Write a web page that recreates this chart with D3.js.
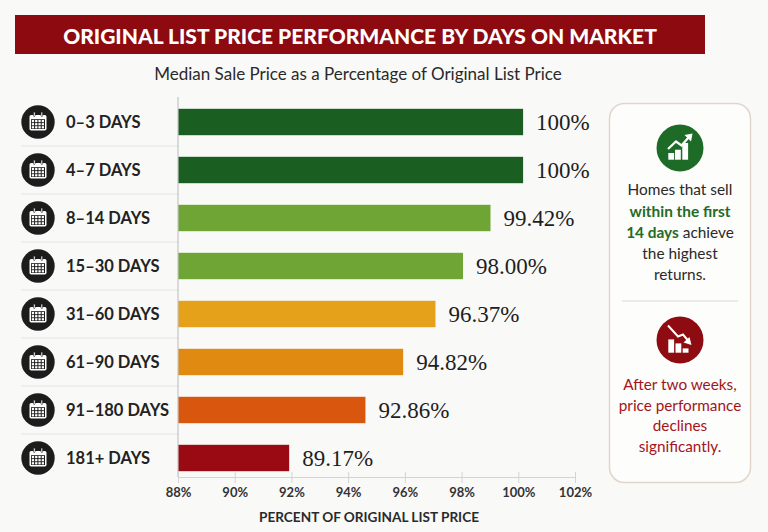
<!DOCTYPE html>
<html>
<head>
<meta charset="utf-8">
<script src="https://cdn.jsdelivr.net/npm/d3@7"></script>
<style>
  body { margin: 0; background: #f9f9f8; }
  svg { display: block; }
  text { font-family: Lato, "Open Sans", sans-serif; }
</style>
</head>
<body>
<svg id="chart" width="768" height="532"></svg>
<script>
// --- data ---
const categories = ['0–3 DAYS', '4–7 DAYS', '8–14 DAYS', '15–30 DAYS',
                    '31–60 DAYS', '61–90 DAYS', '91–180 DAYS', '181+ DAYS'];
// printed value labels
const valueLabels = ['100%', '100%', '99.42%', '98.00%', '96.37%', '94.82%', '92.86%', '89.17%'];
// where each bar actually ends, read against the bottom axis
const barEnds = [100.17, 100.17, 99.02, 98.05, 97.08, 95.94, 94.61, 91.92];
const tickValues = [88, 90, 92, 94, 96, 98, 100, 102];
const title = 'ORIGINAL LIST PRICE PERFORMANCE BY DAYS ON MARKET';
const subtitle = 'Median Sale Price as a Percentage of Original List Price';
const axisTitle = 'PERCENT OF ORIGINAL LIST PRICE';

const barColors = ['#1b5e22', '#1b5e22', '#6ea534', '#6ea534',
                   '#e6a11a', '#e08a12', '#d9560f', '#9a0a13'];

const svg = d3.select('#chart');

let x = d3.scaleLinear().domain([88, 102]).range([178, 575]);
let y = d3.scaleBand().domain(categories).range([98, 482])
          .paddingInner(0.45).paddingOuter(0.225);
let color = d3.scaleOrdinal().domain(categories).range(barColors);

// shrink a text node until it fits a width
function fitText(sel, maxW) {
    let node = sel.node();
    let size = parseFloat(sel.attr('font-size'));
    while (node.getComputedTextLength() > maxW && size > 6) {
        size -= 0.25;
        sel.attr('font-size', size);
    }
}

// title banner
svg.append('rect')
    .attr('x', 15).attr('y', 15)
    .attr('width', 690).attr('height', 39)
    .attr('fill', '#8c0a10');
let titleText = svg.append('text')
    .attr('x', 360).attr('y', 35)
    .attr('text-anchor', 'middle')
    .attr('dominant-baseline', 'central')
    .attr('font-size', 21)
    .attr('font-weight', 900)
    .attr('fill', '#fff')
    .text(title);
fitText(titleText, 616);

let subText = svg.append('text')
    .attr('x', 358).attr('y', 73)
    .attr('text-anchor', 'middle')
    .attr('dominant-baseline', 'central')
    .attr('font-size', 17)
    .attr('fill', '#2a2a2a')
    .text(subtitle);
fitText(subText, 430);

// row separators
let seps = categories.slice(0, -1);
svg.append('g').selectAll('line')
    .data(seps)
    .join('line')
    .attr('x1', 21).attr('x2', 178)
    .attr('y1', d => y(d) + y.bandwidth() / 2 + y.step() / 2)
    .attr('y2', d => y(d) + y.bandwidth() / 2 + y.step() / 2)
    .attr('stroke', '#e2e2e2')
    .attr('stroke-width', 1);

// left labels with calendar icons
let rows = svg.append('g').selectAll('g')
    .data(categories)
    .join('g')
    .attr('transform', d => `translate(0, ${y(d) + y.bandwidth() / 2})`);

let icon = rows.append('g').attr('transform', 'translate(38, 0)');
icon.append('circle').attr('r', 16.7).attr('fill', '#1c1c1c');
icon.append('rect')
    .attr('x', -8.5).attr('y', -7).attr('width', 17).attr('height', 15.5)
    .attr('rx', 1.8).attr('fill', '#fff');
icon.append('rect')
    .attr('x', -7).attr('y', -2.8).attr('width', 14).attr('height', 9.8)
    .attr('fill', '#1c1c1c');
for (let r = 0; r < 3; r++) {
    for (let c = 0; c < 4; c++) {
        icon.append('rect')
            .attr('x', -6.2 + c * 3.3).attr('y', -2 + r * 3.1)
            .attr('width', 2.3).attr('height', 2.2)
            .attr('fill', '#fff');
    }
}
[-4.5, 3].forEach(function(cx) {
    icon.append('rect')
        .attr('x', cx).attr('y', -10).attr('width', 1.6).attr('height', 4.5)
        .attr('rx', 0.8)
        .attr('fill', '#fff').attr('stroke', '#1c1c1c').attr('stroke-width', 0.6);
});

rows.append('text')
    .attr('x', 66)
    .attr('dominant-baseline', 'central')
    .attr('font-size', 16.5)
    .attr('font-weight', 700)
    .attr('fill', '#222')
    .text(d => d);

// bars
svg.append('g').selectAll('rect')
    .data(categories)
    .join('rect')
    .attr('x', x(88))
    .attr('y', d => y(d))
    .attr('width', (d, i) => x(barEnds[i]) - x(88))
    .attr('height', y.bandwidth())
    .attr('fill', d => color(d));

svg.append('g').selectAll('text')
    .data(categories)
    .join('text')
    .attr('x', (d, i) => x(barEnds[i]) + 13)
    .attr('y', d => y(d) + y.bandwidth() / 2)
    .attr('dominant-baseline', 'central')
    .style('font-family', '"Liberation Serif", "DejaVu Serif", serif')
    .attr('font-size', 23)
    .attr('fill', '#1e1e1e')
    .text((d, i) => valueLabels[i]);

// vertical baseline
svg.append('line')
    .attr('x1', x(88)).attr('x2', x(88))
    .attr('y1', 97).attr('y2', 477)
    .attr('stroke', '#c4c4c4').attr('stroke-width', 1.2);

// bottom axis
let axis = svg.append('g')
    .attr('transform', 'translate(0, 477)')
    .call(d3.axisBottom(x).tickValues(tickValues).tickFormat(d => d + '%').tickSizeOuter(0));
axis.select('.domain').attr('stroke', '#d4d4d4');
axis.selectAll('.tick line').attr('y1', -5).attr('y2', 6).attr('stroke', '#d4d4d4');
axis.selectAll('.tick text')
    .attr('y', 16)
    .attr('dy', '0.32em')
    .attr('font-family', 'Lato, sans-serif')
    .attr('font-size', 13)
    .attr('font-weight', 700)
    .attr('fill', '#333');

svg.append('text')
    .attr('x', 369).attr('y', 517)
    .attr('text-anchor', 'middle')
    .attr('dominant-baseline', 'central')
    .attr('font-size', 13.6)
    .attr('font-weight', 700)
    .attr('fill', '#2a2a2a')
    .text(axisTitle);

// right callout panel
svg.append('rect')
    .attr('x', 609.5).attr('y', 103.5)
    .attr('width', 141).attr('height', 379)
    .attr('rx', 15)
    .attr('fill', '#fdfdfc')
    .attr('stroke', '#e3d5ca').attr('stroke-width', 1.5);

let up = svg.append('g').attr('transform', 'translate(680, 148)');
up.append('circle').attr('r', 23.5).attr('fill', '#1e6b28');
[[-11.7, 6.7], [-5, 10], [2.3, 16.7]].forEach(function(b) {
    up.append('rect')
        .attr('x', b[0]).attr('y', 11.7 - b[1])
        .attr('width', 5.8).attr('height', b[1])
        .attr('fill', '#fff');
});
up.append('polyline')
    .attr('points', '-12,1 -4,-6.5 1.5,-2.5 9,-11')
    .attr('fill', 'none').attr('stroke', '#fff').attr('stroke-width', 2.2);
up.append('polygon')
    .attr('points', '12.5,-14.5 4.5,-13 11,-6.5')
    .attr('fill', '#fff');

let upText = svg.append('text')
    .attr('text-anchor', 'middle')
    .attr('font-size', 15.4)
    .attr('fill', '#2a2a2a');
upText.append('tspan').attr('x', 680).attr('y', 195).text('Homes that sell');
upText.append('tspan').attr('x', 680).attr('y', 217)
    .attr('font-weight', 700).attr('fill', '#246b26').text('within the first');
let l3 = upText.append('tspan').attr('x', 680).attr('y', 238);
l3.append('tspan').attr('font-weight', 700).attr('fill', '#246b26').text('14 days');
l3.append('tspan').text(' achieve');
upText.append('tspan').attr('x', 680).attr('y', 259).text('the highest');
upText.append('tspan').attr('x', 680).attr('y', 280).text('returns.');

svg.append('line')
    .attr('x1', 622).attr('x2', 738)
    .attr('y1', 301).attr('y2', 301)
    .attr('stroke', '#e4e4e4').attr('stroke-width', 1.5);

let down = svg.append('g').attr('transform', 'translate(680, 340)');
down.append('circle').attr('r', 23.5).attr('fill', '#8e0b12');
[[-11.7, 13.3], [-4.5, 9.3], [2.7, 4.3]].forEach(function(b) {
    down.append('rect')
        .attr('x', b[0]).attr('y', 12.7 - b[1])
        .attr('width', 5.8).attr('height', b[1])
        .attr('fill', '#fff');
});
down.append('polyline')
    .attr('points', '-12,-14.5 -2,-3.5 3,-5.5 8,0.5')
    .attr('fill', 'none').attr('stroke', '#fff').attr('stroke-width', 2);
down.append('polygon')
    .attr('points', '11.5,5 3.5,2.5 9.5,-3')
    .attr('fill', '#fff');

let downText = svg.append('text')
    .attr('text-anchor', 'middle')
    .attr('font-size', 15.3)
    .attr('fill', '#a3141b');
['After two weeks,', 'price performance', 'declines', 'significantly.'].forEach(function(s, i) {
    downText.append('tspan').attr('x', 680).attr('y', 390 + i * 20.7).text(s);
});
</script>
</body>
</html>
